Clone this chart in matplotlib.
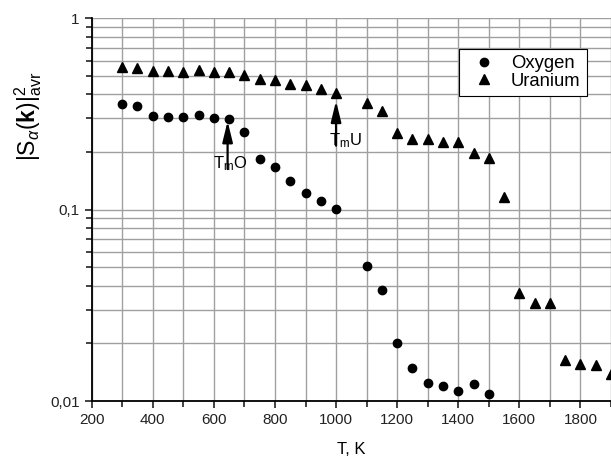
import numpy as np
import matplotlib.pyplot as plt
from matplotlib.ticker import LogLocator, MultipleLocator, FixedFormatter, FixedLocator, NullFormatter

plt.rcParams['font.family'] = ['Liberation Sans', 'DejaVu Sans']
plt.rcParams['mathtext.fontset'] = 'custom'
plt.rcParams['mathtext.rm'] = 'Liberation Sans'
plt.rcParams['mathtext.it'] = 'Liberation Sans:italic'
plt.rcParams['mathtext.bf'] = 'Liberation Sans:bold'

# Datos
temp_oxygen = [300, 350, 400, 450, 500, 550, 600, 650, 700, 750, 800, 850, 900, 950, 1000,
               1100, 1150, 1200, 1250, 1300, 1350, 1400, 1450, 1500]
s_oxygen = [0.358, 0.347, 0.307, 0.304, 0.306, 0.312, 0.300, 0.296, 0.254, 0.183, 0.168, 0.141,
            0.122, 0.111, 0.101, 0.0509, 0.038, 0.0200, 0.0148, 0.0124, 0.0120, 0.0113, 0.0123, 0.0109]

temp_uranium = [300, 350, 400, 450, 500, 550, 600, 650, 700, 750, 800, 850, 900, 950, 1000,
                1100, 1150, 1200, 1250, 1300, 1350, 1400, 1450, 1500, 1550,
                1600, 1650, 1700, 1750, 1800, 1850, 1900]
s_uranium = [0.556, 0.550, 0.532, 0.532, 0.522, 0.535, 0.524, 0.524, 0.504, 0.480, 0.478, 0.452,
             0.447, 0.426, 0.409, 0.360, 0.328, 0.251, 0.235, 0.235, 0.227, 0.225, 0.197, 0.186, 0.117,
             0.0366, 0.0324, 0.0327, 0.0164, 0.0157, 0.0155, 0.0138]

y_ticks = [1, 0.1, 0.01]
y_tick_labels = ['1', '0,1', '0,01']

fig = plt.figure(figsize=(6.11, 4.57), dpi=100)
ax = fig.add_axes([0.150, 0.1225, 0.85, 0.8375])

ax.set_yscale('log')
ax.set_xlim(200, 1900)
ax.set_ylim(0.01, 1)

# Rejilla en todas las divisiones
ax.xaxis.set_major_locator(MultipleLocator(200))
ax.xaxis.set_minor_locator(MultipleLocator(100))
ax.yaxis.set_major_locator(FixedLocator(y_ticks))
ax.yaxis.set_major_formatter(FixedFormatter(y_tick_labels))
ax.yaxis.set_minor_locator(LogLocator(base=10, subs=np.arange(2, 10)))
ax.yaxis.set_minor_formatter(NullFormatter())
ax.grid(True, which='both', color='#a0a0a0', linewidth=1.0)
ax.set_axisbelow(True)

ax.spines['top'].set_visible(False)
ax.spines['right'].set_visible(False)
ax.spines['left'].set_linewidth(1.3)
ax.spines['bottom'].set_linewidth(1.3)
ax.tick_params(which='both', direction='out', width=1.2, labelsize=11, colors='#222222')
ax.tick_params(which='major', length=5)
ax.tick_params(which='minor', length=4)

ax.plot(temp_oxygen, s_oxygen, 'o', color='black', markersize=6, label='Oxygen')
ax.plot(temp_uranium, s_uranium, '^', color='black', markersize=6.5, label='Uranium')

# Flechas de las temperaturas de fusion
arrow_style = dict(arrowstyle='-|>,head_length=0.9,head_width=0.22', color='black', lw=1.6,
                   mutation_scale=14, shrinkA=0, shrinkB=0)
ax.annotate('', xy=(645, 0.290), xytext=(645, 0.163), arrowprops=arrow_style)
ax.text(597, 0.165, r'T$_{\mathrm{m}}$O', fontsize=12, ha='left', va='baseline')
ax.annotate('', xy=(1000, 0.370), xytext=(1000, 0.216), arrowprops=arrow_style)
ax.text(976, 0.218, r'T$_{\mathrm{m}}$U', fontsize=12, ha='left', va='baseline')

ax.legend(loc='upper right', bbox_to_anchor=(0.954, 0.921), fontsize=13.3, frameon=True, fancybox=False,
          edgecolor='black', framealpha=1, borderpad=0.35, handlelength=2.0, handletextpad=0.45,
          labelspacing=0.05, borderaxespad=0)
ax.get_legend().get_frame().set_linewidth(0.8)

ax.set_xlabel('T, K', fontsize=12, labelpad=11)
ax.text(-0.123, 0.745, r'$|\mathrm{S}_{\alpha}(\mathbf{k})|^{2}_{\mathrm{avr}}$', transform=ax.transAxes,
        rotation=90, ha='center', va='center', fontsize=16.5)

fig.savefig('out.png', dpi=100)
